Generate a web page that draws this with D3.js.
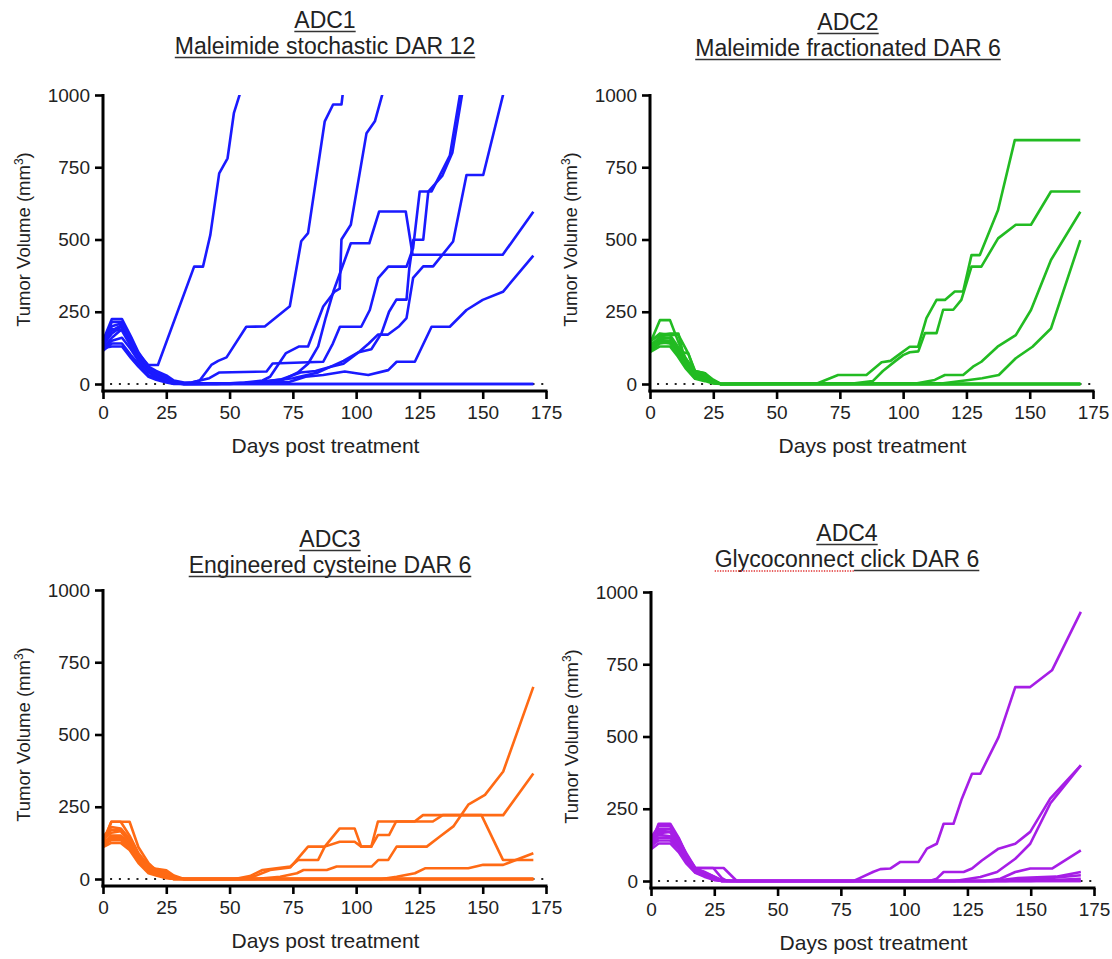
<!DOCTYPE html>
<html>
<head>
<meta charset="utf-8">
<script src="https://cdn.jsdelivr.net/npm/d3@7"></script>
<style>
  body { margin: 0; background: #fff; }
  svg { font-family: Arial, "Liberation Sans", sans-serif; }
</style>
</head>
<body>
<svg id="chart" width="1112" height="959"></svg>
<script>
const titles = ["ADC1", "ADC2", "ADC3", "ADC4"];
const subtitles = ["Maleimide stochastic DAR 12", "Maleimide fractionated DAR 6",
                   "Engineered cysteine DAR 6", "Glycoconnect click DAR 6"];
const colors = ["#1a1aff", "#22bb22", "#ff6a14", "#a61ee6"];
const xTicks = [0, 25, 50, 75, 100, 125, 150, 175];
const yTicks = [0, 250, 500, 750, 1000];

// one array of [day, volume] per mouse
const adc1 = [
  [[0,135],[3.5,175],[7.5,200],[11,150],[14,105],[17.8,66],[21.7,66],[36,406],[39.5,406],[42.4,516],[45.9,729],[49.2,781],[51.7,937],[54.3,1010]],
  [[0,150],[3.5,225],[7.5,225],[11,165],[14,110],[18,60],[21,45],[25,30],[28,12],[32,5],[35,5],[38.2,12],[42.8,66],[45.5,80],[48.8,92],[56.6,198],[63.9,199],[67.2,222],[73.8,269],[78.3,494],[81,522],[87.6,909],[90.9,967],[94.2,967],[94.8,1010]],
  [[0,125],[3.5,160],[7.5,190],[11,140],[14,90],[18,45],[21,30],[25,15],[28,5],[32,0],[45,0],[56,5],[63,12],[66,25],[72.3,107],[77.5,130],[81,130],[87,268],[91.5,320],[93.5,330],[94.2,500],[97.9,551],[104.1,868],[107.4,909],[110.6,1010]],
  [[0,140],[3.5,215],[7.5,215],[11,160],[14,100],[18,55],[21,40],[25,20],[28,5],[32,2],[35,5],[42,20],[46,40],[64.6,43],[67,71],[87,77],[90.8,140],[93.6,198],[102,198],[105.4,256],[108.7,366],[112.7,406],[119.9,406],[122.5,470],[125.1,666],[129.8,666],[137,790],[141.2,1010]],
  [[0,120],[3.5,150],[7.5,160],[11,120],[14,80],[18,40],[21,25],[25,10],[28,3],[32,0],[50,0],[60,5],[70,15],[78,40],[84,45],[90,60],[95,70],[101,110],[106,120],[110,175],[113,250],[115.9,292],[119.9,292],[121,400],[122.6,499],[126.5,499],[128.5,666],[134,720],[138,800],[142,1010]],
  [[0,130],[3.5,185],[7.5,205],[11,150],[14,95],[18,50],[21,35],[25,18],[28,6],[32,0],[55,2],[60,5],[75,20],[85,40],[95,80],[101,110],[105,140],[108.6,171],[112.6,171],[117,200],[119.9,228],[122.5,367],[126.5,407],[130.4,407],[138.3,493],[143.6,723],[150.2,723],[158.3,1010]],
  [[0,145],[3.5,200],[7.5,210],[11,155],[14,105],[18,55],[21,40],[25,25],[28,8],[32,2],[50,2],[62,5],[70,10],[77,40],[81,70],[85,130],[88,230],[91,320],[97.9,487],[105.2,487],[109.1,597],[119.6,597],[122.3,447],[157.9,447],[170,596]],
  [[0,115],[3.5,140],[7.5,140],[11,100],[14,70],[18,30],[21,20],[25,8],[28,2],[32,0],[60,3],[73.8,8],[80,25],[87,31],[95.5,43],[100,37],[104.8,31],[112.7,48],[116,77],[123.2,77],[129.8,198],[137,198],[143.6,256],[150,291],[158,319],[170,444]],
  [[0,125],[3.5,130],[7.5,130],[11,90],[14,60],[18,25],[21,15],[25,5],[28,0],[170,0]],
  [[0,140],[3.5,190],[7.5,185],[11,130],[14,85],[18,45],[21,30],[25,12],[28,3],[32,0],[170,0]]
];

const adc2 = [
  [[0,140],[3.9,221],[7.9,221],[11,150],[14,90],[17.8,45],[21.7,37],[24.3,15],[28,0],[66,2],[74.3,31],[85.5,31],[91.5,75],[95,80],[99,106],[102.6,129],[105.9,129],[109.2,228],[113.2,291],[116.5,291],[120.4,320],[123.7,320],[127,446],[130.3,446],[137.5,602],[144.1,844],[170,844]],
  [[0,125],[3.9,165],[7.9,170],[11.2,170],[15.1,106],[17.8,40],[21.7,30],[24.3,12],[28,0],[80,2],[88,10],[92,45],[97,80],[100,100],[102.6,110],[106,113],[108.6,176],[113.2,176],[115.8,257],[119.8,257],[123,291],[127,406],[130.9,406],[137.5,504],[144.5,551],[150.5,551],[158.4,666],[170,666]],
  [[0,130],[3.9,155],[7.9,160],[11,120],[14,75],[17.8,30],[21.7,25],[25,8],[28,0],[105,2],[112.5,14],[116.5,31],[123.7,31],[127.6,60],[130.9,77],[137.3,129],[144.5,169],[150.5,256],[158.4,429],[170,596]],
  [[0,115],[3.9,140],[7.9,145],[11,110],[14,70],[17.8,25],[21.7,18],[25,5],[28,0],[115,2],[126,14],[131.2,20],[137.8,31],[144.5,89],[151.1,129],[158.4,192],[170,498]],
  [[0,150],[3.9,170],[7.9,175],[11.2,175],[13,110],[15.1,106],[17.8,45],[21.7,37],[25,15],[28,0],[170,0]],
  [[0,120],[3.9,150],[7.9,150],[11,100],[14,60],[17.8,20],[21.7,15],[25,3],[28,0],[170,0]],
  [[0,135],[3.9,160],[7.9,160],[11,115],[14,80],[17.8,35],[21.7,25],[25,8],[28,0],[170,0]],
  [[0,110],[3.9,130],[7.9,130],[11,95],[14,55],[17.8,18],[21.7,10],[25,2],[28,0],[170,0]],
  [[0,145],[3.9,175],[7.9,170],[11,130],[14,90],[17.8,40],[21.7,30],[25,10],[28,0],[170,0]],
  [[0,128],[3.9,145],[7.9,140],[11,105],[14,65],[17.8,28],[21.7,20],[25,5],[28,0],[170,0]]
];

const adc3 = [
  [[0,120],[3.3,150],[7,150],[10.5,120],[14,70],[18,35],[21,20],[25,10],[28,3],[32,0],[60,0],[70,8],[76.6,20],[79.2,31],[88.4,31],[92.3,43],[106.1,43],[108.8,66],[112.7,66],[116,112],[127.9,112],[133.1,147],[138.4,182],[144.3,257],[150.9,291],[158.1,372],[170,665]],
  [[0,130],[3.3,198],[7,198],[10.5,198],[14,110],[18,55],[21,30],[25,22],[28,8],[32,0],[52,0],[58,10],[63,31],[74,43],[77.1,66],[85,66],[87.6,112],[93.5,129],[99.4,129],[102,112],[106,112],[108.6,152],[113,152],[115.8,199],[130.3,199],[134.2,221],[158.1,221],[170,365]],
  [[0,125],[3.3,198],[7,198],[10.5,150],[14,90],[18,45],[21,35],[25,30],[28,12],[32,0],[55,0],[60,10],[66,31],[74,40],[81,112],[87.6,112],[93.5,175],[99.4,175],[102,112],[106,112],[108.6,199],[123.1,199],[126.4,221],[149.5,221],[158,66],[170,66]],
  [[0,140],[3.3,170],[7,170],[10.5,130],[14,75],[18,30],[21,20],[25,8],[28,0],[110,0],[116,8],[123.2,20],[127.2,37],[144.3,37],[150.2,49],[158.1,49],[170,89]],
  [[0,115],[3.3,135],[7,135],[10.5,110],[14,60],[18,25],[21,15],[25,5],[28,0],[170,0]],
  [[0,135],[3.3,160],[7,165],[10.5,125],[14,80],[18,40],[21,25],[25,12],[28,2],[32,0],[170,0]],
  [[0,110],[3.3,125],[7,125],[10.5,100],[14,55],[18,20],[21,12],[25,3],[28,0],[170,0]],
  [[0,145],[3.3,180],[7,175],[10.5,140],[14,85],[18,50],[21,28],[25,18],[28,5],[32,0],[170,0]],
  [[0,128],[3.3,145],[7,145],[10.5,115],[14,65],[18,28],[21,18],[25,6],[28,0],[170,0]],
  [[0,120],[3.3,140],[7,140],[10.5,105],[14,70],[18,32],[21,22],[25,10],[28,0],[170,0]]
];

const adc4 = [
  [[0,130],[3,198],[7.6,198],[10.9,150],[14,90],[17.5,45],[21,30],[25,10],[28,0],[80,0],[82,8],[87.9,32],[90.6,41],[94.5,43],[98.5,66],[105.7,66],[109,112],[112.9,129],[115.6,198],[119.5,198],[122.8,285],[126.8,371],[130.1,371],[137.3,498],[143.9,671],[149.8,671],[158.4,729],[169.8,931]],
  [[0,140],[3,180],[7.6,180],[10.9,147],[14,95],[17.5,45],[24.6,45],[28,10],[30,0],[110,0],[112.9,8],[115.6,31],[123.5,31],[126.8,43],[130.7,71],[137.3,112],[143.9,129],[149.8,170],[157.7,285],[169.8,400]],
  [[0,125],[3,165],[7.6,170],[10.9,120],[14,80],[17.5,45],[21,45],[28.7,45],[33.9,0],[120,0],[130.1,14],[136.7,31],[143.9,77],[149.8,129],[157.7,268],[169.8,400]],
  [[0,150],[3,190],[7.6,190],[10.9,140],[14,85],[17.5,40],[21,30],[25,15],[28,0],[132,0],[138,8],[143.9,31],[149.8,43],[158.4,43],[169.8,106]],
  [[0,118],[3,150],[7.6,150],[10.9,115],[14,70],[17.5,35],[21,25],[25,8],[28,0],[135,0],[145,10],[160,15],[169.8,31]],
  [[0,135],[3,160],[7.6,155],[10.9,125],[14,75],[17.5,38],[21,28],[25,12],[28,0],[140,0],[155,8],[169.8,20]],
  [[0,122],[3,140],[7.6,140],[10.9,110],[14,65],[17.5,30],[21,18],[25,5],[28,0],[150,0],[169.8,8]],
  [[0,110],[3,130],[7.6,130],[10.9,100],[14,60],[17.5,28],[21,15],[25,3],[28,0],[169.8,0]],
  [[0,145],[3,175],[7.6,170],[10.9,135],[14,88],[17.5,42],[21,32],[25,15],[28,3],[32,0],[169.8,0]]
];

const datasets = [adc1, adc2, adc3, adc4];

// layout of each panel (pixels)
const panels = [
  {left: 103, right: 546,  top: 95,  zero: 384, titleX: 325, titleY: 28},
  {left: 650, right: 1093, top: 95,  zero: 384, titleX: 848, titleY: 30},
  {left: 103, right: 546,  top: 590, zero: 879, titleX: 330, titleY: 547},
  {left: 651, right: 1094, top: 592, zero: 881, titleX: 847, titleY: 541}
];

const svg = d3.select("#chart");

panels.forEach((p, i) => {
  const g = svg.append("g");

  const xScale = d3.scaleLinear().domain([0, 175]).range([p.left, p.right]),
        yScale = d3.scaleLinear().domain([0, 1000]).range([p.zero, p.top]),
        axisY = p.zero + 7;

  // clip region so lines leaving the top stop at 1000
  g.append("clipPath").attr("id", "clip" + i)
    .append("rect")
    .attr("x", p.left - 5).attr("y", p.top)
    .attr("width", p.right - p.left + 10).attr("height", p.zero - p.top + 6);

  // dotted zero line
  g.append("line")
    .attr("x1", xScale(2.8)).attr("x2", xScale(175))
    .attr("y1", yScale(0)).attr("y2", yScale(0))
    .attr("stroke", "#222").attr("stroke-width", 2.2)
    .attr("stroke-dasharray", "2,6.8");

  const line = d3.line().x(d => xScale(d[0])).y(d => yScale(d[1]));

  g.append("g").attr("clip-path", `url(#clip${i})`)
    .selectAll("path")
    .data(datasets[i])
    .join("path")
    .attr("d", line)
    .attr("fill", "none")
    .attr("stroke", colors[i])
    .attr("stroke-width", 2.6)
    .attr("stroke-linejoin", "round");

  // axes
  const xAxis = g.append("g")
    .attr("transform", `translate(0, ${axisY})`)
    .call(d3.axisBottom(xScale).tickValues(xTicks).tickFormat(d3.format("d"))
      .tickSize(8).tickSizeOuter(0).tickPadding(7));

  const yAxis = g.append("g")
    .attr("transform", `translate(${p.left}, 0)`)
    .call(d3.axisLeft(yScale).tickValues(yTicks).tickFormat(d3.format("d"))
      .tickSize(8).tickSizeOuter(0).tickPadding(5));
  yAxis.select(".domain").remove();
  yAxis.append("line")
    .attr("x1", 0).attr("x2", 0)
    .attr("y1", p.top - 1).attr("y2", axisY + 1.5)
    .attr("stroke", "#000").attr("stroke-width", 3);

  [xAxis, yAxis].forEach(a => {
    a.selectAll(".domain").attr("stroke", "#000").attr("stroke-width", 3)
      .attr("d", `M${p.left - 1.5},0H${p.right + 1.5}`);
    a.selectAll(".tick line").attr("stroke", "#000").attr("stroke-width", 2.6);
    a.selectAll(".tick text").attr("font-size", 19).attr("fill", "#222")
      .attr("font-family", "Arial, 'Liberation Sans', sans-serif");
  });

  // axis titles
  g.append("text")
    .attr("x", (p.left + p.right) / 2 + 1).attr("y", axisY + 62)
    .attr("text-anchor", "middle").attr("font-size", 21).attr("fill", "#222")
    .text("Days post treatment");

  const yt = g.append("text")
    .attr("transform", `translate(${p.left - 73}, ${(p.top + p.zero) / 2}) rotate(-90)`)
    .attr("text-anchor", "middle").attr("font-size", 18.5).attr("fill", "#222");
  yt.append("tspan").text("Tumor Volume (mm");
  yt.append("tspan").attr("font-size", 12).attr("dy", -7).text("3");
  yt.append("tspan").attr("dy", 7).text(")");

  // titles, underlined
  const t1 = g.append("text")
    .attr("x", p.titleX).attr("y", p.titleY)
    .attr("text-anchor", "middle").attr("font-size", 23).attr("fill", "#222")
    .text(titles[i]);
  const t2 = g.append("text")
    .attr("x", p.titleX).attr("y", p.titleY + 26)
    .attr("text-anchor", "middle").attr("font-size", 23).attr("fill", "#222")
    .text(subtitles[i]);

  [t1, t2].forEach((t, k) => {
    const w = t.node().getComputedTextLength(),
          uy = p.titleY + 26 * k + 3.5;
    let start = p.titleX - w / 2;
    if (i === 3 && k === 1) {
      const wg = t.node().getSubStringLength(0, 12);
      g.append("line")
        .attr("x1", start).attr("x2", start + wg)
        .attr("y1", uy + 0.5).attr("y2", uy + 0.5)
        .attr("stroke", "#e03030").attr("stroke-width", 1.3)
        .attr("stroke-dasharray", "1.3,1.3");
      start += wg;
    }
    g.append("line")
      .attr("x1", start).attr("x2", p.titleX + w / 2)
      .attr("y1", uy).attr("y2", uy)
      .attr("stroke", "#333").attr("stroke-width", 1.5);
  });
});
</script>
</body>
</html>
